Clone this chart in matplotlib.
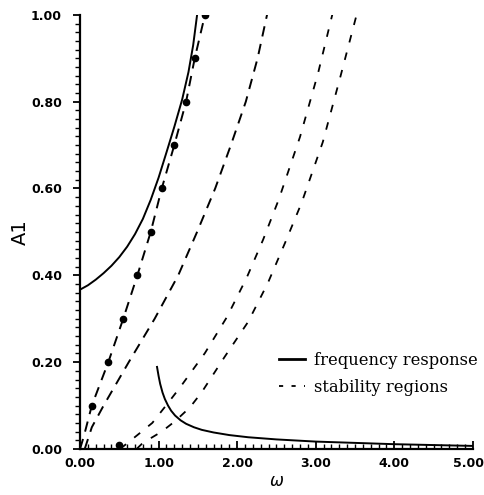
import matplotlib
matplotlib.use("Agg")
import matplotlib.pyplot as plt
from matplotlib.lines import Line2D
from matplotlib.ticker import MultipleLocator
import matplotlib.transforms as mtransforms

# ---- data ----
fr_upper_w = [0.00, 0.10, 0.20, 0.30, 0.40, 0.50, 0.60, 0.70, 0.80, 0.90, 1.00, 1.10, 1.20, 1.30, 1.38, 1.44, 1.49]
fr_upper_a = [0.367, 0.377, 0.390, 0.405, 0.422, 0.442, 0.466, 0.495, 0.530, 0.574, 0.625, 0.683, 0.742, 0.805, 0.868, 0.930, 1.000]

fr_lower_w = [0.98, 1.00, 1.02, 1.05, 1.08, 1.12, 1.16, 1.21, 1.28, 1.35, 1.45, 1.55, 1.70, 1.90, 2.14, 2.50, 3.00, 3.50, 4.00, 4.50, 5.00]
fr_lower_a = [0.189, 0.168, 0.150, 0.130, 0.115, 0.100, 0.088, 0.077, 0.066, 0.058, 0.050, 0.044, 0.038, 0.032, 0.027, 0.022, 0.017, 0.014, 0.011, 0.009, 0.007]

stab1_w = [0.00, 0.05, 0.15, 0.36, 0.55, 0.73, 0.90, 1.04, 1.20, 1.35, 1.46, 1.59]
stab1_a = [0.00, 0.03, 0.10, 0.20, 0.30, 0.40, 0.50, 0.60, 0.70, 0.80, 0.90, 1.00]

stab2_w = [0.06, 0.15, 0.30, 0.62, 0.95, 1.25, 1.49, 1.72, 1.92, 2.11, 2.26, 2.38]
stab2_a = [0.00, 0.05, 0.10, 0.20, 0.30, 0.40, 0.50, 0.60, 0.70, 0.80, 0.90, 1.00]

stab3_w = [0.51, 0.73, 0.92, 1.12, 1.27, 1.59, 1.87, 2.12, 2.33, 2.53, 2.80, 3.03, 3.21]
stab3_a = [0.00, 0.032, 0.060, 0.106, 0.141, 0.221, 0.304, 0.394, 0.482, 0.575, 0.719, 0.866, 1.000]

stab4_w = [0.72, 0.80, 1.04, 1.21, 1.40, 1.55, 1.84, 2.14, 2.39, 2.61, 2.82, 3.09, 3.31, 3.52]
stab4_a = [0.00, 0.014, 0.040, 0.064, 0.096, 0.131, 0.212, 0.293, 0.382, 0.475, 0.567, 0.707, 0.855, 1.000]

dots_w = [0.15, 0.36, 0.55, 0.73, 0.90, 1.04, 1.20, 1.35, 1.46, 1.59, 0.50]
dots_a = [0.10, 0.20, 0.30, 0.40, 0.50, 0.60, 0.70, 0.80, 0.90, 1.00, 0.01]

xticks = [0, 1, 2, 3, 4, 5]
xticklabels = ["0.00", "1.00", "2.00", "3.00", "4.00", "5.00"]
yticks = [0.0, 0.2, 0.4, 0.6, 0.8, 1.0]
yticklabels = ["0.00", "0.20", "0.40", "0.60", "0.80", "1.00"]
legend_labels = ["frequency response", "stability regions"]

# ---- figure ----
plt.rcParams['lines.scale_dashes'] = False
fig = plt.figure(figsize=(4.85, 4.95), dpi=100)
ax = fig.add_axes([0.165, 0.093, 0.810, 0.877])

k = 'black'
ax.plot(fr_upper_w, fr_upper_a, color=k, lw=1.4, solid_capstyle='butt')
ax.plot(fr_lower_w, fr_lower_a, color=k, lw=1.4)

long_dash = (0, (7.5, 5.5))
short_dash = (0, (5.5, 7.5))
ax.plot(stab1_w, stab1_a, color=k, lw=1.4, linestyle=long_dash)
ax.plot(stab2_w, stab2_a, color=k, lw=1.4, linestyle=long_dash)
ax.plot(stab3_w, stab3_a, color=k, lw=1.3, linestyle=short_dash)
ax.plot(stab4_w, stab4_a, color=k, lw=1.3, linestyle=short_dash)
ax.plot(dots_w, dots_a, linestyle='none', marker='o', ms=4.5, color=k)

ax.set_xlim(0, 5)
ax.set_ylim(0, 1)
for s in ['top', 'right']:
    ax.spines[s].set_visible(False)
for s in ['left', 'bottom']:
    ax.spines[s].set_linewidth(1.6)

ax.set_xticks(xticks)
ax.set_xticklabels(xticklabels)
ax.set_yticks(yticks)
ax.set_yticklabels(yticklabels)
ax.xaxis.set_minor_locator(MultipleLocator(0.1))
ax.yaxis.set_minor_locator(MultipleLocator(0.02))
ax.tick_params(axis='x', which='major', direction='in', length=6, width=1.3, pad=6)
ax.tick_params(axis='x', which='minor', direction='in', length=3.5, width=1.0)
ax.tick_params(axis='y', which='major', direction='out', length=5, width=1.3, pad=8)
ax.tick_params(axis='y', which='minor', direction='out', length=3.5, width=1.0)
for lab in ax.get_xticklabels() + ax.get_yticklabels():
    lab.set_fontweight('bold')
    lab.set_fontsize(9)
    lab.set_family('DejaVu Sans')
# keep the last x label inside the figure as in the reference
last = ax.get_xticklabels()[-1]
last.set_transform(last.get_transform() + mtransforms.ScaledTranslation(-4 / 100, 0, fig.dpi_scale_trans))

ax.set_ylabel("A1", fontsize=14, labelpad=1)
ax.set_xlabel(r"$\omega$", fontsize=12, labelpad=1)

handles = [Line2D([], [], color=k, lw=2.0),
           Line2D([], [], color=k, lw=1.3, linestyle=(0, (3.0, 6.0)))]
leg = ax.legend(handles, legend_labels, loc='upper left', bbox_to_anchor=(0.485, 0.243),
                frameon=False, borderpad=0, handlelength=1.6, handletextpad=0.55,
                labelspacing=0.6, prop={'family': 'DejaVu Serif', 'size': 11.8})

fig.savefig("out.png", dpi=100)
